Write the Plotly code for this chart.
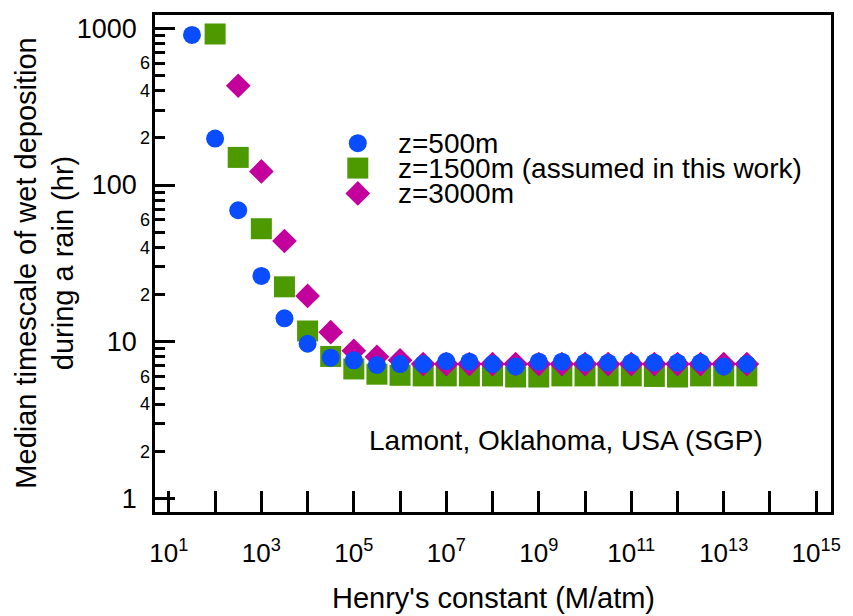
import plotly.graph_objects as go

# Henry's constant (M/atm) sampled every half decade
henry_500 = [3.16e1, 1e2, 3.16e2, 1e3, 3.16e3, 1e4, 3.16e4, 1e5, 3.16e5, 1e6,
             3.16e6, 1e7, 3.16e7, 1e8, 3.16e8, 1e9, 3.16e9, 1e10, 3.16e10, 1e11,
             3.16e11, 1e12, 3.16e12, 1e13, 3.16e13]
henry_1500 = henry_500[1:]
henry_3000 = henry_500[2:]

# Median wet deposition timescale (hr)
tau_500 = [908, 198, 69, 26.3, 14.1, 9.7, 7.9, 7.6, 7.1, 7.2,
           7.2, 7.5, 7.45, 7.2, 6.95, 7.45, 7.45, 7.35, 7.35, 7.35,
           7.35, 7.35, 7.35, 6.95, 7.2]
tau_1500 = [920, 150, 52.6, 22.4, 11.7, 8.05, 6.7, 6.2, 6.1,
            6.05, 6.05, 6.05, 6.05, 5.95, 5.95, 6.05, 6.05, 6.05,
            6.05, 6.0, 5.95, 6.05, 6.05, 6.05]
tau_3000 = [430, 122, 43.9, 19.6, 11.5, 8.75, 8.0, 7.6,
            7.2, 7.2, 7.2, 7.2, 7.2, 7.2, 7.2, 7.2, 7.2, 7.2,
            7.2, 7.2, 7.2, 7.2, 7.2]

series_names = ["z=500m", "z=1500m (assumed in this work)", "z=3000m"]
series_colors = ["#0A4CFF", "#4C9A00", "#C4009C"]

# Axis ticks: labelled odd decades, unlabelled even decades on x;
# decades plus 2..9 minor ticks on y, with 2, 4, 6 labelled
x_label_exps = [1, 3, 5, 7, 9, 11, 13, 15]
x_plain_exps = [2, 4, 6, 8, 10, 12, 14]
x_tick_vals = [10.0 ** k for k in x_label_exps]
x_tick_text = [f"10<sup>{k}</sup>" for k in x_label_exps]
x_minor_vals = [10.0 ** k for k in x_plain_exps]
y_major_vals = [1, 10, 100, 1000]
y_major_text = ["1", "10", "100", "1000"]
y_minor_vals = [m * d for d in (1, 10, 100) for m in range(2, 10)]
y_minor_label_vals = [m * d for d in (1, 10, 100) for m in (2, 4, 6)]
y_minor_label_text = [str(m) for d in (1, 10, 100) for m in (2, 4, 6)]

FONT = "Liberation Sans, Arial, sans-serif"
BLUE, GREEN, MAGENTA = series_colors

fig = go.Figure()

# draw order: squares below diamonds below circles
fig.add_trace(go.Scatter(x=henry_1500, y=tau_1500, mode="markers", name=series_names[1],
                         marker=dict(symbol="square", size=21, color=GREEN, line=dict(width=0))))
fig.add_trace(go.Scatter(x=henry_3000, y=tau_3000, mode="markers", name=series_names[2],
                         marker=dict(symbol="diamond", size=19, color=MAGENTA, line=dict(width=0))))
fig.add_trace(go.Scatter(x=henry_500, y=tau_500, mode="markers", name=series_names[0],
                         marker=dict(symbol="circle", size=18, color=BLUE, line=dict(width=0))))

# empty trace so the minor-label axis is drawn
fig.add_trace(go.Scatter(x=[], y=[], xaxis="x", yaxis="y3", showlegend=False, hoverinfo="skip"))

# legend key drawn on an overlay axis spanning the plot area (0..1)
key_x = 0.300
key_y = [0.742, 0.692, 0.641]
key_symbols = ["circle", "square", "diamond"]
key_sizes = [18, 21, 19]
for sym, sz, col, yy in zip(key_symbols, key_sizes, series_colors, key_y):
    fig.add_trace(go.Scatter(x=[key_x], y=[yy], xaxis="x2", yaxis="y2", mode="markers",
                             showlegend=False, hoverinfo="skip",
                             marker=dict(symbol=sym, size=sz, color=col, line=dict(width=0))))

annotations = []
for name, yy in zip(series_names, key_y):
    annotations.append(dict(text=name, xref="paper", yref="paper", x=0.356, y=yy,
                            xanchor="left", yanchor="middle", showarrow=False,
                            font=dict(family=FONT, size=28, color="black")))

annotations.append(dict(text="Lamont, Oklahoma, USA (SGP)", xref="paper", yref="paper",
                        x=0.314, y=0.144, xanchor="left", yanchor="middle", showarrow=False,
                        font=dict(family=FONT, size=28, color="black")))
annotations.append(dict(text="Median timescale of wet deposition<br>during a rain (hr)",
                        xref="paper", yref="paper", x=-0.164, y=0.50, textangle=-90,
                        xanchor="center", yanchor="middle", showarrow=False,
                        font=dict(family=FONT, size=29, color="black")))
annotations.append(dict(text="Henry's constant (M/atm)", xref="paper", yref="paper",
                        x=0.5, y=-0.173, xanchor="center", yanchor="middle", showarrow=False,
                        font=dict(family=FONT, size=29, color="black")))

TICK = dict(ticks="inside", tickwidth=2.5, tickcolor="black")

fig.update_layout(
    width=853, height=616,
    margin=dict(l=155, r=15, t=13, b=104),
    paper_bgcolor="white", plot_bgcolor="white",
    showlegend=False,
    annotations=annotations,
    xaxis=dict(type="log", range=[0.70, 15.32], tickvals=x_tick_vals, ticktext=x_tick_text,
               ticklen=21, **TICK,
               minor=dict(tickvals=x_minor_vals, ticklen=21, **TICK),
               showline=True, linewidth=2.5, linecolor="black", mirror=True,
               showgrid=False, zeroline=False, ticklabelstandoff=16,
               tickfont=dict(family=FONT, size=26, color="black")),
    yaxis=dict(type="log", range=[-0.087, 3.085], tickvals=y_major_vals, ticktext=y_major_text,
               ticklen=20, **TICK,
               minor=dict(tickvals=y_minor_vals, ticklen=10, **TICK),
               showline=True, linewidth=2.5, linecolor="black", mirror=True,
               showgrid=False, zeroline=False, ticklabelstandoff=10,
               tickfont=dict(family=FONT, size=27, color="black")),
    yaxis3=dict(type="log", range=[-0.087, 3.085], overlaying="y", anchor="x", side="left",
                tickvals=y_minor_label_vals, ticktext=y_minor_label_text,
                ticklen=10, **TICK,
                showline=False, showgrid=False, zeroline=False, ticklabelstandoff=4,
                tickfont=dict(family=FONT, size=18, color="black")),
    xaxis2=dict(range=[0, 1], overlaying="x", anchor="y2", visible=False),
    yaxis2=dict(range=[0, 1], overlaying="y", anchor="x2", visible=False),
)

fig.write_html("out.html")
